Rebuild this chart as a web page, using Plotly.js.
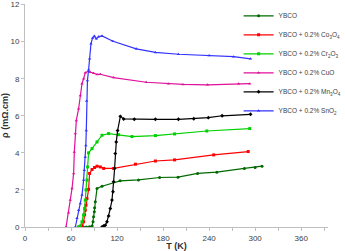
<!DOCTYPE html>
<html>
<head>
<meta charset="utf-8">
<script src="https://cdn.plot.ly/plotly-3.0.1.min.js"></script>
<style>html,body{margin:0;padding:0;background:#fff;}#chart{width:345px;height:251px;}</style>
</head>
<body>
<div id="chart"></div>
<script>
// Temperature (K) and resistivity (mOhm.cm) per sample
const ybcoT = [70, 76, 80, 84, 87.5, 88.7, 89.4, 90.4, 90.7, 91.7, 93.9, 100.4, 124, 148, 175.5, 199.5, 225, 250, 286, 300, 309];
const ybcoR = [0, 0, 0, 0.02, 0.05, 0.28, 0.55, 0.82, 1.04, 1.36, 2.08, 2.2, 2.49, 2.54, 2.67, 2.69, 2.89, 2.96, 3.16, 3.21, 3.28];

const coT = [72, 74.5, 76.4, 77.7, 78.6, 79.5, 80.8, 82.9, 84.2, 87.4, 90.7, 93.9, 98.2, 102.5, 115.5, 144, 170, 195, 246, 291];
const coR = [0, 0.05, 0.28, 0.65, 0.91, 1.18, 1.54, 2.03, 2.89, 3.1, 3.21, 3.28, 3.24, 3.16, 3.16, 3.39, 3.56, 3.62, 3.89, 4.07];

const crT = [69.5, 72, 74.3, 76.4, 77.7, 78.6, 79.5, 80.8, 81.6, 82.9, 87.4, 93.9, 100.4, 109, 122, 139.5, 170, 195, 237, 293];
const crR = [0, 0.05, 0.28, 0.65, 1.0, 1.45, 2.0, 2.53, 3.24, 4.0, 4.23, 4.59, 4.95, 5.04, 4.98, 4.88, 4.93, 5.02, 5.18, 5.31];

const cuoT = [53.5, 56.8, 59, 61.3, 63.4, 64.3, 65.6, 66.9, 69.9, 72.1, 74.3, 76.4, 78.6, 82.9, 85.1, 89.4, 93.9, 98.2, 115.5, 158, 187, 206, 238, 278.5, 293];
const cuoR = [0, 0.77, 1.45, 2.08, 2.89, 4.05, 5.04, 5.75, 6.38, 7.1, 7.73, 8.0, 8.32, 8.4, 8.35, 8.3, 8.23, 8.24, 8.06, 7.81, 7.73, 7.69, 7.67, 7.73, 7.73];

const mnT = [100.4, 102.5, 104.7, 106.9, 109, 111.2, 113.4, 114.7, 115.5, 116.8, 117.7, 119, 120.7, 124.3, 128.6, 142.5, 170, 200, 220, 239, 257, 294];
const mnR = [0, 0.05, 0.1, 0.28, 0.59, 1.0, 1.45, 1.9, 2.44, 3.16, 3.96, 4.59, 5.2, 5.97, 5.83, 5.81, 5.81, 5.81, 5.84, 5.9, 6.0, 6.08];

const snT = [65.6, 67.8, 69.9, 72.1, 74.3, 76.4, 77.3, 78.6, 79.3, 79.9, 80.3, 81.4, 82.9, 84.2, 86, 88.1, 90.4, 93, 96, 100.4, 114.7, 145, 170, 200, 240, 272, 294];
const snR = [0, 0.47, 0.91, 1.27, 1.72, 2.53, 3.06, 3.78, 4.4, 5.2, 6.8, 7.9, 8.48, 9.07, 9.88, 10.2, 10.3, 10.15, 10.27, 10.31, 10.02, 9.61, 9.42, 9.32, 9.25, 9.19, 9.07];

const names = ['YBCO', 'YBCO + 0.2% Co<sub>3</sub>O<sub>4</sub>', 'YBCO + 0.2% Cr<sub>2</sub>O<sub>3</sub>',
               'YBCO + 0.2% CuO', 'YBCO + 0.2% Mn<sub>3</sub>O<sub>4</sub>', 'YBCO + 0.2% SnO<sub>2</sub>'];
const colors = ['#006a00', '#ff0000', '#00d000', '#e0109a', '#000000', '#3333ff'];
const symbols = ['circle', 'square', 'square', 'triangle-up', 'diamond', 'triangle-up'];
const xs = [ybcoT, coT, crT, cuoT, mnT, snT];
const ys = [ybcoR, coR, crR, cuoR, mnR, snR];

const traces = xs.map((x, i) => ({
  x: x, y: ys[i], name: names[i], type: 'scatter', mode: 'lines+markers',
  line: {color: colors[i], width: 1.2},
  marker: {color: colors[i], size: 3, symbol: symbols[i]}
}));

const tickFont = {family: 'Liberation Sans, Arial, sans-serif', size: 8, color: '#404040'};
const layout = {
  width: 345, height: 251,
  margin: {l: 25, r: 17, t: 4, b: 24, autoexpand: false},
  paper_bgcolor: '#ffffff', plot_bgcolor: '#ffffff',
  showlegend: true,
  legend: {x: 0.705, y: 1.012, xanchor: 'left', yanchor: 'top', bgcolor: 'rgba(0,0,0,0)',
           font: {family: 'Liberation Sans, Arial, sans-serif', size: 6.5, color: '#404040'}},
  xaxis: {range: [0, 395], tick0: 0, dtick: 60, ticks: 'outside', ticklen: 3, tickcolor: '#bfbfbf',
          minor: {dtick: 30, ticks: 'outside', ticklen: 3, tickcolor: '#bfbfbf'},
          showline: true, linecolor: '#bfbfbf', linewidth: 1, showgrid: false, zeroline: false,
          tickfont: tickFont,
          title: {text: '<b>T (K)</b>', standoff: 2, font: {family: 'Liberation Sans, Arial, sans-serif', size: 9, color: '#303030'}}},
  yaxis: {range: [0, 12.03], tickvals: [0, 2, 4, 6, 8, 10, 12], ticks: 'outside', ticklen: 3, tickcolor: '#bfbfbf',
          showline: true, linecolor: '#bfbfbf', linewidth: 1, showgrid: false, zeroline: false,
          tickfont: tickFont,
          title: {text: '<b>ρ (mΩ.cm)</b>', standoff: 4, font: {family: 'Liberation Sans, Arial, sans-serif', size: 9, color: '#303030'}}}
};
Plotly.newPlot('chart', traces, layout, {displayModeBar: false, staticPlot: true});
</script>
</body>
</html>
